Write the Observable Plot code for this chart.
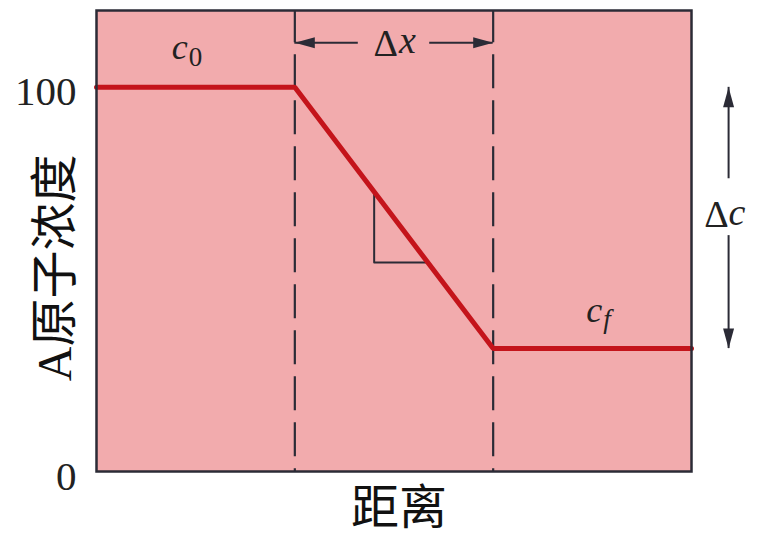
<!DOCTYPE html>
<html><head><meta charset="utf-8">
<script src="https://cdn.jsdelivr.net/npm/d3@7"></script>
<script src="https://cdn.jsdelivr.net/npm/@observablehq/plot@0.6"></script>
<style>body{margin:0;background:#fff}</style>
</head><body><div id="chart"></div>
<script>
// Data
const distance = [0, 10, 20, 30];
const concentration = [100, 100, 32, 32];
const yTicks = [0, 100];
const boundaries = [10, 20];
const triX = [14, 14, 16.7];
const triY = [72.8, 54.4, 54.4];
const yLabel = "A原子浓度";
const xLabel = "距离";
const c0 = 100, cf = 32;
const dxLevel = 111.6;
const dcX = 31.87;

const profile = distance.map((d, i) => ({x: d, y: concentration[i]}));
const tri = triX.map((d, i) => ({x: d, y: triY[i]}));

const ink = "#2b2b36";
const serif = "Liberation Serif, Noto Sans CJK SC, serif";
const arrowHead = {draw(ctx) { ctx.moveTo(0, 0); ctx.lineTo(-5.5, 20); ctx.lineTo(5.5, 20); ctx.closePath(); }};

const chart = Plot.plot({
  width: 758, height: 537,
  marginLeft: 96, marginRight: 67, marginTop: 10, marginBottom: 66,
  style: {fontFamily: serif, color: "#222", background: "#fff"},
  x: {domain: [0, 30], axis: null},
  y: {domain: [0, 120], axis: null},
  marks: [
    Plot.frame({fill: "#f2abad", stroke: "none"}),
    // dashed boundaries
    Plot.ruleX(boundaries, {y1: 108.5, y2: 0, stroke: ink, strokeWidth: 2.2, strokeDasharray: "34,12"}),
    Plot.ruleX(boundaries, {y1: dxLevel, y2: 120, stroke: ink, strokeWidth: 2.2}),
    // slope triangle
    Plot.line(tri, {x: "x", y: "y", stroke: ink, strokeWidth: 2}),
    // profile
    Plot.line(profile, {x: "x", y: "y", stroke: "#c4141b", strokeWidth: 5, strokeLinejoin: "miter"}),
    Plot.frame({stroke: ink, strokeWidth: 2.5}),
    // Δx arrow
    Plot.ruleY([dxLevel], {x1: boundaries[0], x2: 13.2, stroke: ink, strokeWidth: 2}),
    Plot.ruleY([dxLevel], {x1: 16.8, x2: boundaries[1], stroke: ink, strokeWidth: 2}),
    Plot.dot([{x: boundaries[0], y: dxLevel}], {x: "x", y: "y", symbol: arrowHead, fill: ink, stroke: "none", rotate: -90}),
    Plot.dot([{x: boundaries[1], y: dxLevel}], {x: "x", y: "y", symbol: arrowHead, fill: ink, stroke: "none", rotate: 90}),
    Plot.text(["Δ"], {x: 15.2, y: dxLevel, textAnchor: "end", fontSize: 38, fill: "#222", dy: 1}),
    Plot.text(["x"], {x: 15.2, y: dxLevel, textAnchor: "start", fontSize: 38, fontStyle: "italic", fill: "#222", dx: 1, dy: -2}),
    // Δc arrow
    Plot.ruleX([dcX], {y1: c0, y2: 76.2, stroke: ink, strokeWidth: 2}),
    Plot.ruleX([dcX], {y1: 61.4, y2: cf, stroke: ink, strokeWidth: 2}),
    Plot.dot([{x: dcX, y: c0}], {x: "x", y: "y", symbol: arrowHead, fill: ink, stroke: "none", rotate: 0}),
    Plot.dot([{x: dcX, y: cf}], {x: "x", y: "y", symbol: arrowHead, fill: ink, stroke: "none", rotate: 180}),
    Plot.text(["Δ"], {x: dcX, y: (c0 + cf) / 2, textAnchor: "end", fontSize: 38, fill: "#222", dy: -3}),
    Plot.text(["c"], {x: dcX, y: (c0 + cf) / 2, textAnchor: "start", fontSize: 38, fontStyle: "italic", fill: "#222", dx: 0, dy: -5}),
    // c0, cf labels
    Plot.text(["c"], {x: 4.6, y: 110.5, textAnchor: "end", fontSize: 36, fontStyle: "italic", fill: "#222"}),
    Plot.text(["0"], {x: 4.6, y: 110.5, textAnchor: "start", fontSize: 27, fill: "#222", dx: 1, dy: 10}),
    Plot.text(["c"], {x: 25.5, y: 42, textAnchor: "end", fontSize: 36, fontStyle: "italic", fill: "#222"}),
    Plot.text(["f"], {x: 25.5, y: 42, textAnchor: "start", fontSize: 27, fontStyle: "italic", fill: "#222", dx: 1, dy: 9}),
    // axes
    Plot.axisY(yTicks, {tickSize: 0, tickPadding: 20, fontSize: 41, label: null, dy: 5, fill: "#222"}),
    Plot.text([yLabel], {x: () => -2.07, y: () => 53, rotate: -90, fontSize: 48, fill: "#111"}),
    Plot.text([xLabel], {frameAnchor: "bottom", dx: 5, dy: 52, fontSize: 48, fill: "#111"})
  ]
});
document.getElementById("chart").appendChild(chart);
</script>
</body></html>
